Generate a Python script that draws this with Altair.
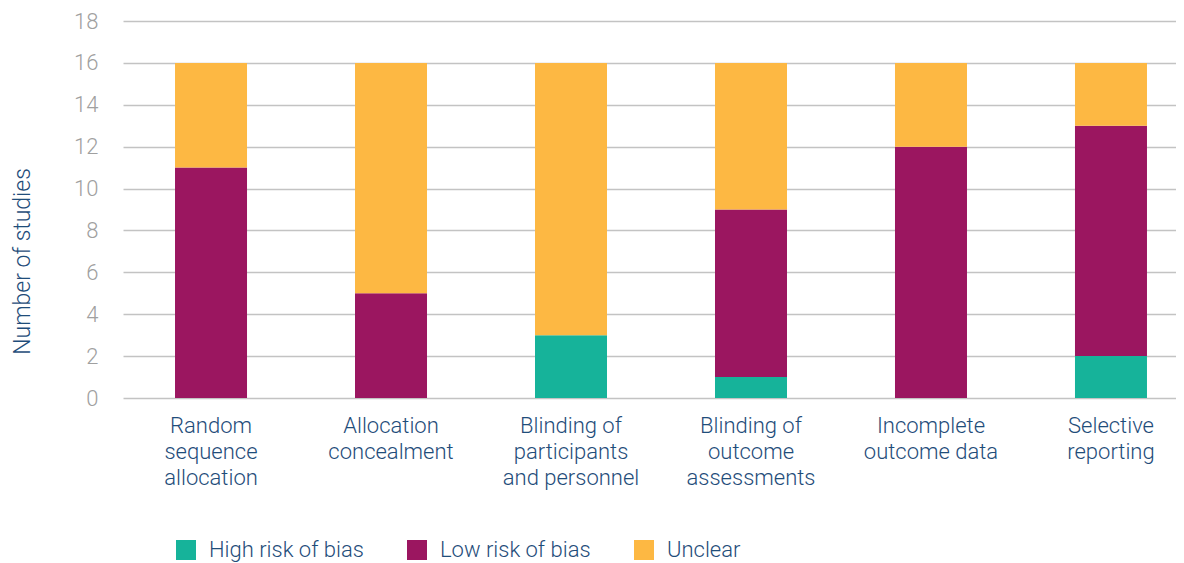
import altair as alt
import pandas as pd

categories = ["Random\nsequence\nallocation", "Allocation\nconcealment", "Blinding of\nparticipants\nand personnel",
              "Blinding of\noutcome\nassessments", "Incomplete\noutcome data", "Selective\nreporting"]
series = ["High risk of bias", "Low risk of bias", "Unclear"]
high = [0, 0, 3, 1, 0, 2]
low = [11, 5, 0, 8, 12, 11]
unclear = [5, 11, 13, 7, 4, 3]
colors = ["#16B39A", "#9B1660", "#FDB843"]

rows = []
for i, c in enumerate(categories):
    for j, (s, vals) in enumerate(zip(series, [high, low, unclear])):
        rows.append({"cat": c, "series": s, "value": vals[i], "order": j})
df = pd.DataFrame(rows)

font = "Roboto"
blue = "#1F4D7A"

chart = alt.Chart(df).mark_bar(size=72).encode(
    x=alt.X("cat:N", sort=categories, title=None,
            scale=alt.Scale(range=[0, 1076], paddingInner=0.6, paddingOuter=0.289),
            axis=alt.Axis(labelExpr="split(datum.label, '\\n')", labelAngle=0, labelFontSize=22,
                          labelColor=blue, labelFont=font, labelFontWeight=300, labelLineHeight=26,
                          labelPadding=17, domain=False, ticks=False)),
    y=alt.Y("value:Q", stack="zero", title="Number of studies",
            scale=alt.Scale(domain=[0, 18], nice=False),
            axis=alt.Axis(values=list(range(0, 19, 2)), grid=True, gridColor="#C3C3C3", gridWidth=1.5,
                          domain=False, ticks=False, labelFontSize=22, labelColor="#A0A0A0",
                          labelFont=font, labelFontWeight=300, labelPadding=25,
                          titleFont=font, titleFontWeight=300, titleFontSize=23, titleColor=blue,
                          titleX=-101, titleY=240, titleAngle=-90, titleBaseline="middle", titleAlign="center")),
    color=alt.Color("series:N", sort=series, scale=alt.Scale(domain=series, range=colors),
                    legend=alt.Legend(title=None, orient="none", direction="horizontal",
                                      legendX=52, legendY=518, symbolType="square", symbolSize=400,
                                      symbolStrokeWidth=0, labelFontSize=22, labelColor=blue,
                                      labelFont=font, labelFontWeight=300, labelOffset=12,
                                      columnPadding=42)),
    order=alt.Order("order:Q", sort="ascending"),
).properties(
    width=1053, height=377,
    autosize=alt.AutoSizeParams(type="none"),
    padding={"left": 115, "top": 13, "right": 0, "bottom": 165},
).configure_view(stroke=None)

chart.save("out.html", embed_options={"renderer": "svg", "actions": False})
